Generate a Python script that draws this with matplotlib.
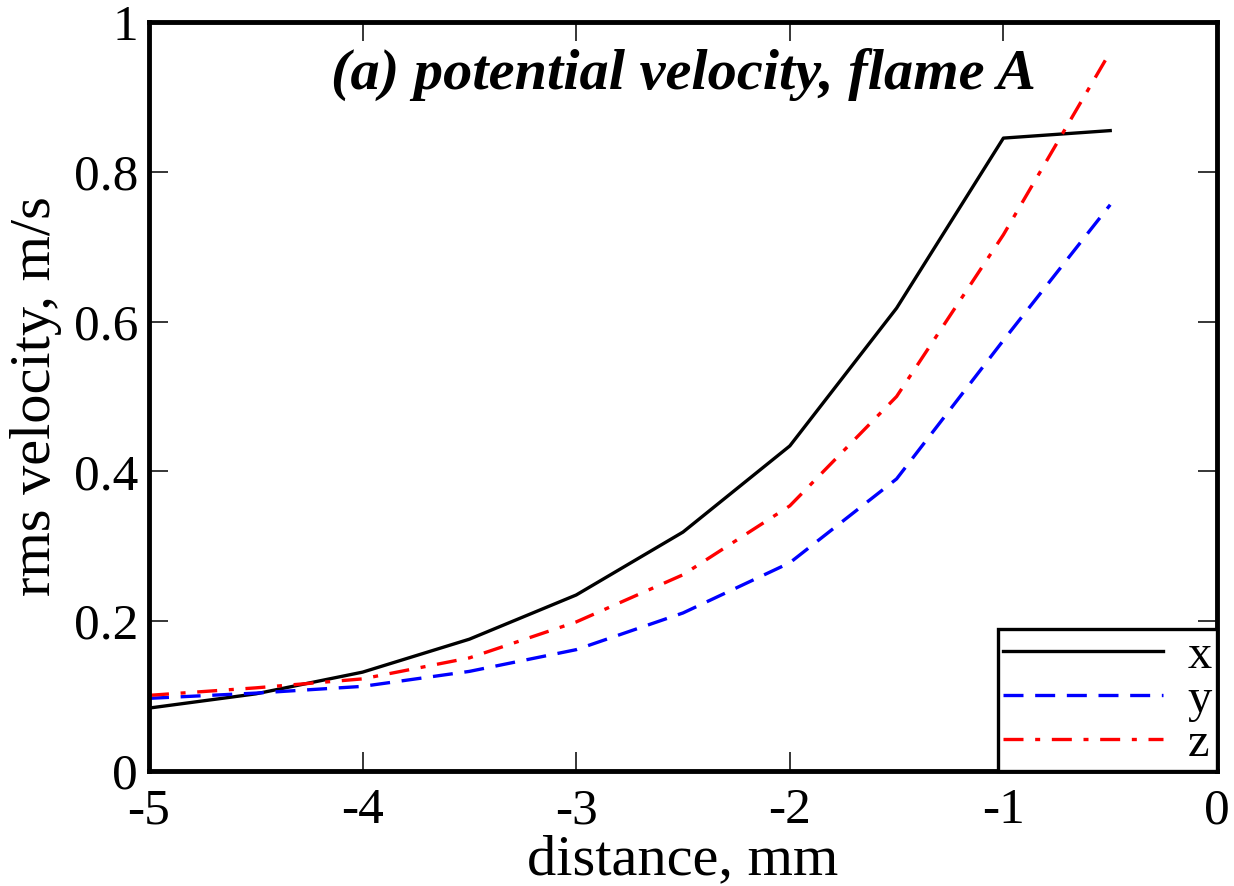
import matplotlib
matplotlib.use("Agg")
import matplotlib.pyplot as plt

plt.rcParams['font.family'] = ['Liberation Serif', 'DejaVu Serif']

distance = [-5.0, -4.5, -4.0, -3.5, -3.0, -2.5, -2.0, -1.5, -1.0, -0.5]
rms_x = [0.084, 0.103, 0.132, 0.176, 0.235, 0.319, 0.434, 0.618, 0.845, 0.855]
rms_y = [0.097, 0.104, 0.113, 0.133, 0.162, 0.211, 0.278, 0.390, 0.575, 0.756]
rms_z = [0.101, 0.111, 0.123, 0.151, 0.199, 0.262, 0.354, 0.500, 0.716, 0.960]

fig = plt.figure(figsize=(12.34, 8.86), dpi=100)
ax = fig.add_axes([149 / 1234, 1 - 771 / 886, (1217 - 149) / 1234, (771 - 22) / 886])

ax.plot(distance, rms_x, '-', color='black', linewidth=2.4, label='x')
ax.plot(distance, rms_y, '--', color='blue', linewidth=2.4, dashes=(6, 3.5), label='y')
ax.plot(distance, rms_z, '-.', color='red', linewidth=2.4, dashes=(6, 3.5, 1.5, 3.5), label='z')

ax.set_xlim(-5, 0)
ax.set_ylim(0, 1)
ax.set_xticks([-5, -4, -3, -2, -1, 0])
ax.set_xticklabels(['-5', '-4', '-3', '-2', '-1', '0'])
ax.set_yticks([0, 0.2, 0.4, 0.6, 0.8, 1])
ax.set_yticklabels(['0', '0.2', '0.4', '0.6', '0.8', '1'])
ax.tick_params(direction='in', length=14, width=1.1, top=True, right=True, labelsize=37)
ax.tick_params(axis='x', pad=12)
ax.tick_params(axis='y', pad=8)
for s in ax.spines.values():
    s.set_linewidth(3.5)

ax.set_xlabel('distance, mm', fontsize=42, labelpad=0)
ax.set_ylabel('rms velocity, m/s', fontsize=42, labelpad=8)

ax.text(0.5, 0.93, '(a) potential velocity, flame A', transform=ax.transAxes,
        ha='center', va='center', fontsize=42, fontweight='bold', style='italic')

leg = ax.legend(loc='lower right', fontsize=35, handlelength=3.3, handletextpad=0.5,
                borderpad=0.1, labelspacing=0.0, fancybox=False, framealpha=1,
                edgecolor='black', borderaxespad=0)
leg.get_frame().set_linewidth(2.4)

fig.savefig('out.png', dpi=100)
